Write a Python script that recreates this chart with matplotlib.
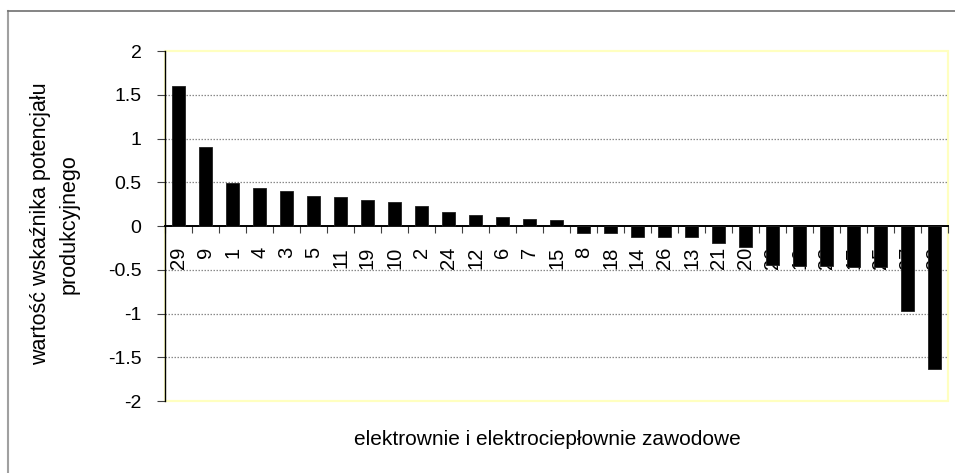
import matplotlib
matplotlib.use("Agg")
import matplotlib.pyplot as plt
from matplotlib.lines import Line2D
from matplotlib.patches import Rectangle
import numpy as np

plt.rcParams['font.family'] = ['Liberation Sans', 'DejaVu Sans']

# Plant identifiers, sorted by index value
plants = ["29", "9", "1", "4", "3", "5", "11", "19", "10", "2", "24", "12", "6", "7", "15",
          "8", "18", "14", "26", "13", "21", "20", "22", "16", "23", "17", "25", "27", "28"]
index_values = [1.60, 0.90, 0.49, 0.43, 0.40, 0.34, 0.335, 0.30, 0.28, 0.23, 0.157, 0.127,
                0.108, 0.082, 0.074, -0.08, -0.08, -0.13, -0.13, -0.13, -0.19, -0.24,
                -0.44, -0.46, -0.46, -0.47, -0.47, -0.97, -1.63]
y_ticks = [-2, -1.5, -1, -0.5, 0, 0.5, 1, 1.5, 2]
y_tick_labels = ["-2", "-1.5", "-1", "-0.5", "0", "0.5", "1", "1.5", "2"]

W, H = 955, 473
fig = plt.figure(figsize=(W / 100, H / 100), dpi=100)
ax = fig.add_axes([165 / W, 1 - 401 / H, (948 - 165) / W, (401 - 51) / H])

x = np.arange(len(plants))
ax.bar(x, index_values, width=0.48, color='black', edgecolor='#202020',
       linewidth=0.6, zorder=3)

ax.set_xlim(-0.5, len(plants) - 0.5)
ax.set_ylim(-2, 2)

# y axis
ax.set_yticks(y_ticks)
ax.set_yticklabels(y_tick_labels, fontsize=14)
ax.tick_params(axis='y', direction='out', length=6, width=0.8, color='#404040', pad=11)

# x axis on the zero line; labels at the bar centres, tick marks between bars
ax.spines['bottom'].set_position(('data', 0))
ax.spines['bottom'].set_linewidth(1.4)
ax.set_xticks(x)
ax.set_xticklabels(plants, rotation=90, fontsize=14.5)
ax.tick_params(axis='x', which='major', length=0, pad=15)
ax.set_xticks(np.arange(-0.5, len(plants), 1), minor=True)
ax.tick_params(axis='x', which='minor', direction='out', length=5, width=0.8, color='#404040')

# dotted gridlines
for v in [-1.5, -1, -0.5, 0.5, 1, 1.5]:
    ax.axhline(v, color='#8A8A8A', linestyle=(0, (1.2, 1.2)), linewidth=0.9, zorder=1)

# plot-area frame
for s in ['top', 'right']:
    ax.spines[s].set_visible(False)
ax.add_patch(Rectangle((0, 0), 1, 1, transform=ax.transAxes, fill=False,
                       edgecolor='#FFFFC0', linewidth=1.6, clip_on=False, zorder=0.5))
ax.spines['left'].set_color('black')
ax.spines['left'].set_linewidth(1.0)

# axis titles
fig.text(55 / W, 1 - 224 / H, "wartość wskaźnika potencjału\nprodukcyjnego",
         rotation=90, ha='center', va='center', multialignment='center',
         fontsize=15.5, linespacing=1.45)
fig.text(547 / W, 1 - 439 / H, "elektrownie i elektrociepłownie zawodowe",
         ha='center', va='center', fontsize=15)

# chart-area border
fig.add_artist(Line2D([7.5 / W, 7.5 / W], [0, 1 - 11 / H], transform=fig.transFigure,
                      color='#A0A0A0', linewidth=1.5))
fig.add_artist(Line2D([7.5 / W, 1], [1 - 11.5 / H, 1 - 11.5 / H], transform=fig.transFigure,
                      color='#707070', linewidth=1.2))

fig.savefig("out.png", dpi=100)
